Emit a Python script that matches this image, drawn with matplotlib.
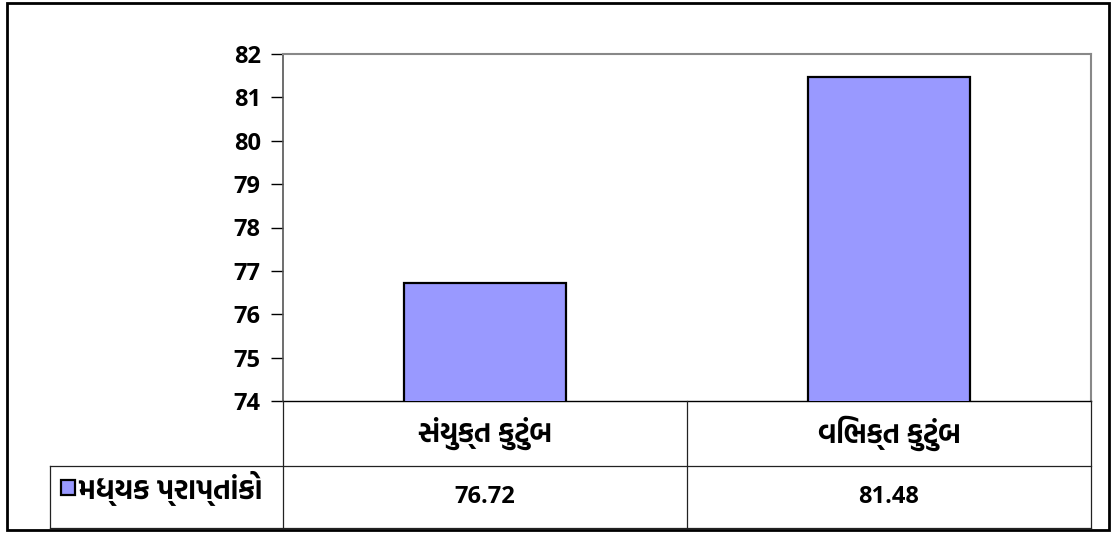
import matplotlib
matplotlib.use("Agg")
import matplotlib.pyplot as plt
from matplotlib import font_manager
from matplotlib.ft2font import FT2Font
from matplotlib.patches import Rectangle
import matplotlib.transforms as mtransforms

categories = ["સંયુક્ત કુટુંબ", "વિભક્ત કુટુંબ"]
values = [76.72, 81.48]
value_labels = ["76.72", "81.48"]
series_name = "મધ્યક પ્રાપ્તાંકો"
y_ticks = [74, 75, 76, 77, 78, 79, 80, 81, 82]

# find a font that covers Gujarati, if any (prefer a bold face)
guj_font = None
guj_bold = False
for fe in font_manager.fontManager.ttflist:
    try:
        cmap = FT2Font(fe.fname).get_charmap()
        if 0x0A95 in cmap:
            is_bold = str(fe.weight) in ("bold", "700", "800", "900") or (isinstance(fe.weight, int) and fe.weight >= 600)
            if guj_font is None or (is_bold and not guj_bold):
                guj_font = fe.name
                guj_bold = is_bold
    except Exception:
        pass
guj_families = ([guj_font] if guj_font else []) + ["DejaVu Sans"]
num_family = ["Open Sans", "DejaVu Sans"]

W, H = 1116, 534
fig = plt.figure(figsize=(W / 100, H / 100), dpi=100)

def fx(px):
    return px / W

def fy(py):
    return 1 - py / H

ax_l, ax_r, ax_t, ax_b = 283, 1091, 54, 401
ax = fig.add_axes([fx(ax_l), fy(ax_b), fx(ax_r - ax_l), (ax_b - ax_t) / H])

x = list(range(len(categories)))
ax.bar(x, values, width=0.4, bottom=0, color="#9999FF", edgecolor="black", linewidth=1.6, zorder=3)
ax.set_xlim(-0.5, len(categories) - 0.5)
ax.set_ylim(y_ticks[0], y_ticks[-1])
ax.set_yticks(y_ticks)
ax.set_yticklabels([str(t) for t in y_ticks], fontfamily=num_family, fontweight="bold", fontsize=17)
ax.set_xticks([])
ax.tick_params(axis="y", direction="out", length=9, width=1, color="black", pad=7)
for side in ["top", "right"]:
    ax.spines[side].set_color("#888888")
    ax.spines[side].set_linewidth(1.5)
ax.spines["left"].set_color("#555555")
ax.spines["left"].set_linewidth(1.2)
ax.spines["bottom"].set_color("black")
ax.spines["bottom"].set_linewidth(1)

# data table below the axes
row1, row2 = 466, 528
leg_l = 50
lw = 0.9
lc = "#222222"
fig.add_artist(plt.Line2D([fx(leg_l), fx(ax_r)], [fy(row1), fy(row1)], color=lc, lw=lw))
fig.add_artist(plt.Line2D([fx(leg_l), fx(ax_r)], [fy(row2), fy(row2)], color=lc, lw=lw))
fig.add_artist(plt.Line2D([fx(leg_l), fx(leg_l)], [fy(row1), fy(row2)], color=lc, lw=lw))
blend = mtransforms.blended_transform_factory(ax.transData, fig.transFigure)
bounds = [xi - 0.5 for xi in x] + [x[-1] + 0.5]
for b in bounds:
    fig.add_artist(plt.Line2D([b, b], [fy(ax_b), fy(row2)], color=lc, lw=lw, transform=blend))

for xi, cat, vl in zip(x, categories, value_labels):
    fig.text(xi, fy((ax_b + row1) / 2), cat, transform=blend, ha="center", va="center",
             fontsize=20, fontfamily=guj_families, fontweight="bold")
    fig.text(xi, fy((row1 + row2) / 2), vl, transform=blend, ha="center", va="center",
             fontsize=17, fontfamily=num_family, fontweight="bold")

# legend key in first cell
fig.add_artist(Rectangle((fx(61), fy(495)), fx(14), 15 / H, facecolor="#9999FF",
                         edgecolor="black", lw=1.6, transform=fig.transFigure))
fig.text(fx(78), fy(489), series_name, ha="left", va="center", fontsize=20.5,
         fontfamily=guj_families, fontweight="bold")

# outer border
fig.add_artist(Rectangle((fx(7), fy(530)), fx(1109 - 7), (530 - 3) / H, facecolor="none",
                         edgecolor="black", lw=2, transform=fig.transFigure))

fig.savefig("out.png", dpi=100)
